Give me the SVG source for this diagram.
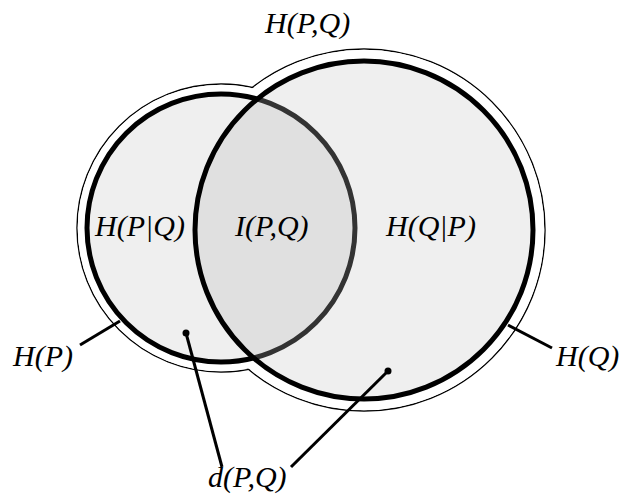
<svg xmlns="http://www.w3.org/2000/svg" width="619" height="499" viewBox="0 0 619 499">
<style>
.lbl{font-family:"Liberation Serif","DejaVu Serif",serif;font-style:italic;font-size:30px;fill:#000}
.thin{fill:none;stroke:#000;stroke-width:1.4}
.lead{stroke:#000;stroke-width:3;fill:none}
</style>
<defs>
<clipPath id="inR"><circle cx="364" cy="230" r="169"/></clipPath>
</defs>
<rect width="619" height="499" fill="#fff"/>
<g id="outline">
<circle class="thin" cx="221" cy="228" r="144"/>
<circle class="thin" cx="364" cy="230" r="181"/>
<circle cx="221" cy="228" r="143.3" fill="#fff"/>
<circle cx="364" cy="230" r="180.3" fill="#fff"/>
</g>
<g id="P">
<circle cx="221" cy="228" r="134" fill="#efefef" stroke="#000" stroke-width="5"/>
</g>
<g id="Q">
<circle cx="364" cy="230" r="169" fill="#efefef"/>
<circle cx="221" cy="228" r="134" fill="#e0e0e0" clip-path="url(#inR)"/>
<circle cx="221" cy="228" r="134" fill="none" stroke="#333" stroke-width="5" clip-path="url(#inR)"/>
<circle cx="364" cy="230" r="169" fill="none" stroke="#000" stroke-width="5"/>
</g>
<g id="connectors">
<line class="lead" x1="80" y1="345" x2="120" y2="321"/>
<line class="lead" x1="508" y1="325" x2="552" y2="348"/>
<line class="lead" x1="186" y1="333" x2="222" y2="467"/>
<line class="lead" x1="388" y1="371" x2="291" y2="467"/>
<circle cx="186" cy="333" r="3.5" fill="#000"/>
<circle cx="388" cy="371" r="3.5" fill="#000"/>
</g>
<g id="labels">
<text class="lbl" x="265" y="33">H(P,Q)</text>
<text class="lbl" x="95" y="236">H(P|Q)</text>
<text class="lbl" x="235" y="236">I(P,Q)</text>
<text class="lbl" x="386" y="236">H(Q|P)</text>
<text class="lbl" x="13" y="366">H(P)</text>
<text class="lbl" x="556" y="366">H(Q)</text>
<text class="lbl" x="208" y="487">d(P,Q)</text>
</g>
</svg>
